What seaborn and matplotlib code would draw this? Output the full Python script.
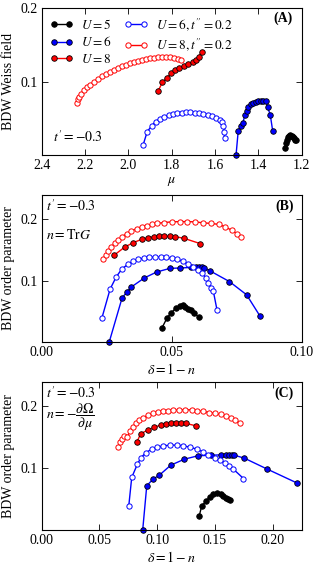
import numpy as np
import pandas as pd
import seaborn as sns
import matplotlib
matplotlib.use("Agg")
import matplotlib.pyplot as plt

# ---- panel A : Weiss field vs mu ----
mu_u5 = [1.277, 1.272, 1.267, 1.262, 1.257, 1.252, 1.247, 1.242, 1.237, 1.232, 1.227]
wf_u5 = [0.009, 0.016, 0.021, 0.024, 0.026, 0.027, 0.026, 0.025, 0.023, 0.021, 0.020]
mu_u6 = [1.503, 1.493, 1.482, 1.472, 1.463, 1.454, 1.447, 1.436, 1.424, 1.411, 1.400,
         1.389, 1.377, 1.366, 1.357, 1.345, 1.334]
wf_u6 = [0.0, 0.033, 0.040, 0.043, 0.054, 0.060, 0.066, 0.069, 0.0705, 0.072, 0.073,
         0.0737, 0.074, 0.074, 0.065, 0.0546, 0.033]
mu_u8 = [1.862, 1.843, 1.823, 1.803, 1.783, 1.765, 1.743, 1.723, 1.703, 1.689, 1.676, 1.662]
wf_u8 = [0.0877, 0.099, 0.1055, 0.1114, 0.1155, 0.119, 0.122, 0.1246, 0.127, 0.1296, 0.134, 0.141]
mu_u6t = [1.9325, 1.913, 1.892, 1.874, 1.854, 1.834, 1.814, 1.794, 1.774, 1.754, 1.734,
          1.714, 1.694, 1.674, 1.654, 1.634, 1.614, 1.594, 1.578, 1.568, 1.561, 1.557, 1.556]
wf_u6t = [0.0132, 0.0318, 0.040, 0.0455, 0.0495, 0.0523, 0.0546, 0.056, 0.0569, 0.0578, 0.0582,
          0.0582, 0.0578, 0.0569, 0.056, 0.0546, 0.0528, 0.0505, 0.048, 0.0455, 0.040, 0.032, 0.023]
mu_u8t = [2.2385, 2.231, 2.2265, 2.219, 2.205, 2.1925, 2.177, 2.159, 2.140, 2.122, 2.103,
          2.085, 2.066, 2.048, 2.029, 2.011, 1.993, 1.974, 1.956, 1.937, 1.919, 1.900,
          1.882, 1.863, 1.845, 1.826, 1.808, 1.790, 1.771, 1.759]
wf_u8t = [0.0705, 0.076, 0.0796, 0.0832, 0.0887, 0.0923, 0.0955, 0.100, 0.104, 0.1073, 0.1105,
          0.1137, 0.1164, 0.1191, 0.1214, 0.1232, 0.125, 0.1269, 0.1282, 0.1296, 0.131, 0.1319,
          0.1328, 0.1332, 0.1337, 0.1337, 0.1332, 0.1319, 0.131, 0.1291]

# ---- panel B : order parameter vs delta (n = TrG) ----
dB_u5 = [0.0462, 0.0483, 0.0499, 0.0515, 0.0532, 0.0543, 0.0552, 0.0563, 0.0573, 0.0585, 0.0604]
opB_u5 = [0.0222, 0.0396, 0.0477, 0.0547, 0.0579, 0.0606, 0.0574, 0.0541, 0.0514, 0.0477, 0.040]
dB_u6 = [0.026, 0.0309, 0.0327, 0.0343, 0.0395, 0.0442, 0.0493, 0.0532, 0.0574, 0.0593,
         0.0606, 0.0615, 0.0624, 0.0647, 0.0722, 0.0788, 0.084]
opB_u6 = [0.0, 0.0715, 0.081, 0.089, 0.1044, 0.114, 0.120, 0.1206, 0.1215, 0.122,
          0.122, 0.1215, 0.1205, 0.116, 0.0984, 0.0768, 0.0417]
dB_u8 = [0.0279, 0.032, 0.0352, 0.0385, 0.0408, 0.0432, 0.0452, 0.0472, 0.0493, 0.0513, 0.0548, 0.0609]
opB_u8 = [0.1417, 0.155, 0.162, 0.1676, 0.170, 0.172, 0.1725, 0.1725, 0.1725, 0.172, 0.169, 0.1606]
dB_u6t = [0.0231, 0.0263, 0.0286, 0.0308, 0.0333, 0.0352, 0.0372, 0.0393, 0.0414, 0.0436,
          0.0458, 0.0478, 0.050, 0.0522, 0.0542, 0.0562, 0.0581, 0.060, 0.0618, 0.0631,
          0.0641, 0.0651, 0.066, 0.0674]
opB_u6t = [0.038, 0.086, 0.1055, 0.119, 0.127, 0.1314, 0.135, 0.1368, 0.138, 0.1384,
           0.1384, 0.138, 0.1368, 0.1347, 0.1314, 0.127, 0.1227, 0.1174, 0.112, 0.1044,
           0.0968, 0.0882, 0.0828, 0.0525]
dB_u8t = [0.0237, 0.0246, 0.0256, 0.0268, 0.0281, 0.0295, 0.031, 0.0327, 0.0345, 0.0365,
          0.0385, 0.0405, 0.0425, 0.0445, 0.047, 0.050, 0.053, 0.056, 0.059, 0.062,
          0.065, 0.068, 0.0705, 0.073, 0.075, 0.0768]
opB_u8t = [0.135, 0.142, 0.149, 0.155, 0.161, 0.166, 0.172, 0.177, 0.181, 0.185,
           0.188, 0.190, 0.192, 0.1935, 0.195, 0.196, 0.1965, 0.1965, 0.196, 0.1945,
           0.1935, 0.192, 0.188, 0.1825, 0.177, 0.172]

# ---- panel C : order parameter vs delta (n = -dOmega/dmu) ----
dC_u5 = [0.1362, 0.1385, 0.1423, 0.1457, 0.1486, 0.152, 0.155, 0.1572, 0.1596, 0.1616, 0.163]
opC_u5 = [0.022, 0.039, 0.047, 0.054, 0.058, 0.0605, 0.058, 0.055, 0.0525, 0.050, 0.048]
dC_u6 = [0.0874, 0.0909, 0.0961, 0.1018, 0.1117, 0.1235, 0.135, 0.1463, 0.155, 0.1596,
         0.1624, 0.1645, 0.1668, 0.1754, 0.1953, 0.2212]
opC_u6 = [0.0, 0.0714, 0.082, 0.0887, 0.1049, 0.1146, 0.120, 0.121, 0.1216, 0.1216,
          0.1216, 0.1214, 0.121, 0.1162, 0.0984, 0.0758]
dC_u8 = [0.0822, 0.0857, 0.0923, 0.0975, 0.103, 0.1076, 0.112, 0.1163, 0.1206, 0.1249, 0.1336]
opC_u8 = [0.1416, 0.156, 0.162, 0.166, 0.170, 0.1718, 0.173, 0.173, 0.173, 0.1724, 0.1686]
dC_u6t = [0.0753, 0.0779, 0.0828, 0.086, 0.0903, 0.0952, 0.1001, 0.1053, 0.111, 0.1169,
          0.1226, 0.1284, 0.1342, 0.1394, 0.1442, 0.150, 0.1544, 0.1587, 0.1624, 0.1659, 0.1746]
opC_u6t = [0.038, 0.085, 0.1065, 0.1173, 0.1254, 0.1308, 0.134, 0.1362, 0.1373, 0.1373,
           0.1362, 0.134, 0.1308, 0.1265, 0.122, 0.1173, 0.1135, 0.109, 0.1038, 0.0984, 0.0833]
dC_u8t = [0.0663, 0.0678, 0.0693, 0.0713, 0.0742, 0.0766, 0.0790, 0.0815, 0.0845, 0.088,
          0.0923, 0.0966, 0.101, 0.1053, 0.1096, 0.1139, 0.1188, 0.1241, 0.1299, 0.1347,
          0.140, 0.1451, 0.150, 0.155, 0.1593, 0.1636, 0.1674, 0.1717]
opC_u8t = [0.135, 0.1416, 0.147, 0.1525, 0.151, 0.161, 0.167, 0.1725, 0.1778, 0.182,
           0.1859, 0.189, 0.191, 0.1924, 0.193, 0.194, 0.194, 0.1945, 0.1945, 0.193,
           0.192, 0.190, 0.1887, 0.187, 0.1848, 0.181, 0.1778, 0.1724]

labels = ['$U = 5$', '$U = 6$', '$U = 8$', "$U = 6, t^{\\prime\\prime} = 0.2$",
          "$U = 8, t^{\\prime\\prime} = 0.2$"]
colors = ['black', 'blue', 'red', 'blue', 'red']
filled = [True, True, True, False, False]

sns.set_theme(style="ticks", rc={
    "xtick.direction": "in", "ytick.direction": "in",
    "xtick.top": True, "ytick.right": True,
    "xtick.major.size": 4, "ytick.major.size": 4,
    "xtick.major.width": 0.6, "ytick.major.width": 0.6,
    "axes.linewidth": 0.8, "axes.edgecolor": "black",
    "xtick.color": "black", "ytick.color": "black",
    "text.color": "black", "axes.labelcolor": "black",
    "font.size": 10, "axes.labelsize": 10, "xtick.labelsize": 10, "ytick.labelsize": 10,
    "legend.fontsize": 9.5, "mathtext.fontset": "stix"})
plt.rcParams['font.family'] = ['Liberation Serif', 'DejaVu Serif']

fig = plt.figure(figsize=(3.15, 5.67), dpi=100)
axA = fig.add_axes([0.1324, 0.7266, 0.8254, 0.2588])
axB = fig.add_axes([0.1324, 0.3973, 0.8254, 0.2588])
axC = fig.add_axes([0.1324, 0.0653, 0.8254, 0.2615])


def draw(ax, series):
    for (x, y), lab, c, f in zip(series, labels, colors, filled):
        df = pd.DataFrame({'x': x, 'y': y})
        sns.lineplot(data=df, x='x', y='y', ax=ax, sort=False, estimator=None,
                     color=c, lw=1.0, marker='o', markersize=4.0 if f else 3.8,
                     markerfacecolor=c if f else 'white',
                     markeredgecolor='black' if f else c,
                     markeredgewidth=0.6 if f else 0.7,
                     label=lab, legend=False, clip_on=False)


draw(axA, [(mu_u5, wf_u5), (mu_u6, wf_u6), (mu_u8, wf_u8), (mu_u6t, wf_u6t), (mu_u8t, wf_u8t)])
draw(axB, [(dB_u5, opB_u5), (dB_u6, opB_u6), (dB_u8, opB_u8), (dB_u6t, opB_u6t), (dB_u8t, opB_u8t)])
draw(axC, [(dC_u5, opC_u5), (dC_u6, opC_u6), (dC_u8, opC_u8), (dC_u6t, opC_u6t), (dC_u8t, opC_u8t)])

axA.set_xlim(2.4, 1.2)
axA.set_ylim(0, 0.2)
axA.set_xticks([2.4, 2.2, 2.0, 1.8, 1.6, 1.4, 1.2])
axA.set_yticks([0.1, 0.2])
axA.set_xlabel(r'$\mu$', labelpad=2)
axA.set_ylabel('BDW Weiss field', labelpad=4)
axA.text(0.966, 0.935, '(A)', transform=axA.transAxes, ha='right', va='center', fontweight='bold')
axA.text(0.045, 0.125, r"$t^{\prime} = -0.3$", transform=axA.transAxes, ha='left', va='center')
h, l = axA.get_legend_handles_labels()
axA.legend(h, l, loc='upper left', ncol=2, frameon=False, handlelength=1.8, numpoints=2,
           handletextpad=0.6, columnspacing=0.9, labelspacing=0.25,
           borderaxespad=0.2, bbox_to_anchor=(0.0, 1.0))

axB.set_xlim(0, 0.10)
axB.set_ylim(0, 0.24)
axB.set_xticks([0.0, 0.05, 0.10])
axB.set_xticklabels(['0.00', '0.05', '0.10'])
axB.set_yticks([0.1, 0.2])
axB.set_xlabel(r'$\delta = 1 - n$', labelpad=2)
axB.set_ylabel('BDW order parameter', labelpad=4)
axB.text(0.968, 0.92, '(B)', transform=axB.transAxes, ha='right', va='center', fontweight='bold')
axB.text(0.015, 0.925, r"$t^{\prime} = -0.3$", transform=axB.transAxes, ha='left', va='center')
axB.text(0.015, 0.727, r"$n = \mathrm{Tr}G$", transform=axB.transAxes, ha='left', va='center')

axC.set_xlim(0, 0.225)
axC.set_ylim(0, 0.24)
axC.set_xticks([0.0, 0.05, 0.10, 0.15, 0.20])
axC.set_xticklabels(['0.00', '0.05', '0.10', '0.15', '0.20'])
axC.set_yticks([0.1, 0.2])
axC.set_xlabel(r'$\delta = 1 - n$', labelpad=2)
axC.set_ylabel('BDW order parameter', labelpad=4)
axC.text(0.968, 0.92, '(C)', transform=axC.transAxes, ha='right', va='center', fontweight='bold')
axC.text(0.015, 0.922, r"$t^{\prime} = -0.3$", transform=axC.transAxes, ha='left', va='center')
axC.text(0.015, 0.76, r"$n = -\dfrac{\partial \Omega}{\partial \mu}$", transform=axC.transAxes,
         ha='left', va='center')

for ax in (axA, axB, axC):
    ax.tick_params(pad=3)

fig.savefig('out.png', dpi=100)
